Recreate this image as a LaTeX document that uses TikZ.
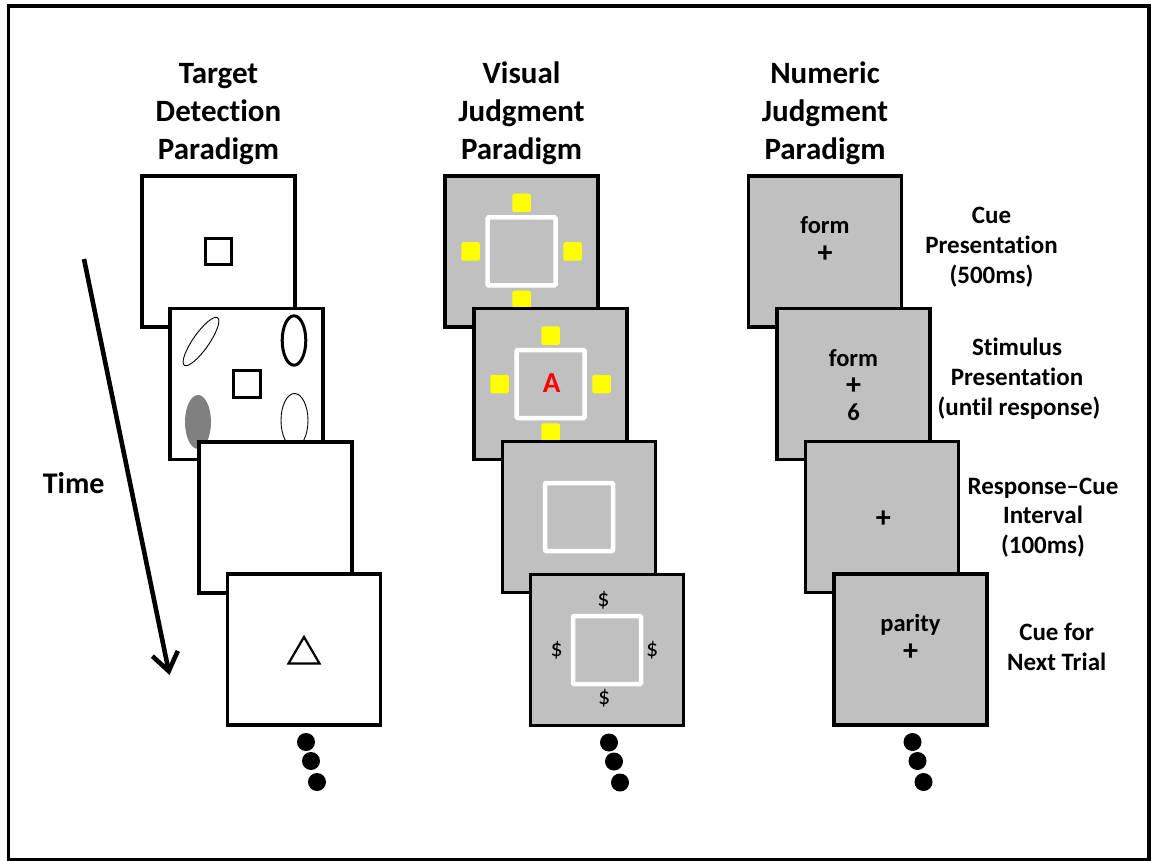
\documentclass[tikz,border=0pt]{standalone}
\usepackage{fontspec}
\setmainfont{Carlito}[Ligatures=NoCommon]
\usetikzlibrary{arrows.meta}
\definecolor{panelgray}{RGB}{192,192,192}
\definecolor{blobgray}{RGB}{128,128,128}
\definecolor{cueyellow}{RGB}{255,255,0}
\definecolor{letterred}{RGB}{255,0,0}

% four yellow cue squares around the centre of a screen
\newcommand\cuesquares[1]{%
  \foreach \dx/\dy in {0/-48.5,0/48.5,-51/0,51/0}
    \fill[cuesq, shift={(#1)}] (\dx-9.25,\dy-9.25) rectangle ++(18.5,18.5);%
}

\begin{document}
\begin{tikzpicture}[x=1pt,y=-1pt,
  panel/.style={draw=black, line width=3.2pt, minimum width=153pt, minimum height=151pt, inner sep=0pt},
  whitepanel/.style={panel, fill=white},
  graypanel/.style={panel, fill=panelgray},
  cuesq/.style={fill=cueyellow, rounded corners=1.5pt},
  placeholder/.style={draw=white, line width=4.5pt, rounded corners=1pt},
  blackline/.style={draw=black, line width=3pt},
  heading/.style={font=\fontsize{31}{36}\selectfont\bfseries, anchor=base},
  steplabel/.style={font=\fontsize{25}{29}\selectfont\bfseries, anchor=base},
  screenword/.style={font=\fontsize{24.5}{28}\selectfont\bfseries, anchor=base},
  screensym/.style={font=\fontsize{30}{34}\selectfont\bfseries, inner sep=0pt},
  dollar/.style={font=\fontsize{24}{28}\selectfont, inner sep=0pt},
]
\useasboundingbox (0,0) rectangle (1152,861);
\fill[white] (0,0) rectangle (1152,861);
\draw[line width=3.5pt] (8.5,6) rectangle (1149,860);

% column headings
\node[heading] (tdA) at (218.5,83.3) {Target};
\node[heading] (tdB) at (218.5,121.7) {Detection};
\node[heading] (tdC) at (218.5,160) {Paradigm};
\node[heading] (vjA) at (521.5,83.3) {Visual};
\node[heading] (vjB) at (521.5,121.7) {Judgment};
\node[heading] (vjC) at (521.5,160) {Paradigm};
\node[heading] (njA) at (825,83.3) {Numeric};
\node[heading] (njB) at (825,121.7) {Judgment};
\node[heading] (njC) at (825,160) {Paradigm};

% target detection screens
\node[whitepanel] (td1) at (218.5,251.5) {};
\draw[blackline, shift={(td1)}] (-13,-13) rectangle (13,13);

\node[whitepanel] (td2) at (246.5,384) {};
\begin{scope}[shift={(td2)}]
  \draw[line width=0.9pt, shift={(-45.5,-42.5)}, rotate=55] (0,0) ellipse [x radius=29, y radius=8];
  \draw[line width=3pt] (47.5,-43.5) ellipse [x radius=11.8, y radius=24.7];
  \fill[blobgray] (-48.5,38) ellipse [x radius=13, y radius=27];
  \draw[line width=0.9pt] (48,36.5) ellipse [x radius=13.5, y radius=27];
  \draw[blackline] (-13.5,-13.5) rectangle (13.5,13.5);
\end{scope}

\node[whitepanel] (td3) at (275.5,517.5) {};
\node[whitepanel] (td4) at (304,649.5) {};
\draw[line width=2.2pt, shift={(td4)}] (0,-12.5) -- (15.5,14) -- (-15.5,14) -- cycle;

% visual judgment screens
\node[graypanel] (vj1) at (521.5,251.5) {};
\cuesquares{vj1}
\draw[placeholder, shift={(vj1)}] (-34,-34) rectangle (34,34);

\node[graypanel] (vj2) at (550.5,384) {};
\cuesquares{vj2}
\draw[placeholder, shift={(vj2)}] (-34,-34) rectangle (34,34);
\node[font=\fontsize{29}{32}\selectfont\bfseries, text=letterred, inner sep=0pt] (vjA2) at (551.7,383.3) {A};

\node[graypanel] (vj3) at (579,517) {};
\draw[placeholder, shift={(vj3)}] (-34,-34) rectangle (34,34);

\node[graypanel] (vj4) at (607,650) {};
\draw[placeholder, shift={(vj4)}] (-34,-34) rectangle (34,34);
\node[dollar] (dT) at (603.5,600.7) {\$};
\node[dollar] (dB) at (604.3,698.3) {\$};
\node[dollar] (dL) at (556.7,650) {\$};
\node[dollar] (dR) at (652.3,650) {\$};

% numeric judgment screens
\node[graypanel] (nj1) at (825,251.5) {};
\node[screenword] (nj1w) at (825,233.3) {form};
\node[screensym] (nj1p) at (825,254) {+};

\node[graypanel] (nj2) at (853.5,384) {};
\node[screenword] (nj2w) at (853.5,366.7) {form};
\node[screensym] (nj2p) at (853.5,386) {+};
\node[screenword] (nj2n) at (853.5,420) {6};

\node[graypanel] (nj3) at (882,517) {};
\node[screensym] (nj3p) at (883.3,519) {+};

\node[graypanel] (nj4) at (910.5,649.5) {};
\node[screenword] (nj4w) at (910.5,631.7) {parity};
\node[screensym] (nj4p) at (910.5,652.5) {+};

% continuation dots below each column
\foreach \p in {td4,vj4,nj4}
  \fill[shift={(\p)}] (2,92.5) circle [radius=9] (7,111.5) circle [radius=9] (13,132.5) circle [radius=9];

% phase labels
\node[steplabel] (l1a) at (991.5,223.3) {Cue};
\node[steplabel] (l1b) at (991.5,253.5) {Presentation};
\node[steplabel] (l1c) at (991.5,283.5) {(500ms)};
\node[steplabel] (l2a) at (1017,355) {Stimulus};
\node[steplabel] (l2b) at (1017,385) {Presentation};
\node[steplabel] (l2c) at (1019,415) {(until response)};
\node[steplabel] (l3a) at (1043,494) {Response--Cue};
\node[steplabel] (l3b) at (1043,523.5) {Interval};
\node[steplabel] (l3c) at (1043,553) {(100ms)};
\node[steplabel] (l4a) at (1056.7,640) {Cue for};
\node[steplabel] (l4b) at (1056.7,670) {Next Trial};

% time axis
\coordinate (tstart) at (84,259);
\coordinate (tend) at (169.5,675);
\draw[line width=4.6pt, -{Straight Barb[length=18pt,width=26pt]}] (tstart) -- (tend);
\node[font=\fontsize{30}{34}\selectfont\bfseries, inner sep=0pt] (timelbl) at (73.7,483.3) {Time};
\end{tikzpicture}
\end{document}
